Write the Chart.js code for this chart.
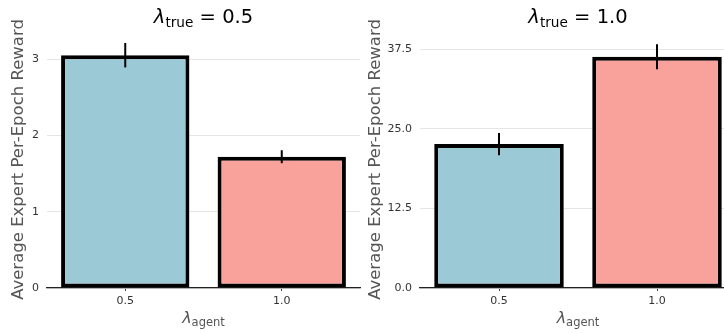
<!DOCTYPE html>
<html lang="en">
<head>
    <meta charset="UTF-8">
    <title>Expert reward by lambda</title>
    <script src="https://cdn.jsdelivr.net/npm/chart.js"></script>
    <style>
        body {
            margin: 0;
            background: #fff;
            font-family: "DejaVu Sans", sans-serif;
        }
        #wrap {
            position: relative;
            width: 724px;
            height: 333px;
            overflow: hidden;
        }
        canvas {
            position: absolute;
            top: 0;
        }
        .title, .xlabel {
            position: absolute;
            text-align: center;
            white-space: nowrap;
        }
        .title {
            top: 6px;
            font-size: 19.5px;
            line-height: 22px;
            color: #000;
        }
        .xlabel {
            top: 308px;
            font-size: 16px;
            line-height: 19px;
            color: #555;
        }
        .lam { font-style: italic; }
        .sub { position: relative; top: 4px; font-size: 70%; }
        .xlabel .sub { top: 3px; font-size: 72%; }
    </style>
</head>
<body>
<div id="wrap">
    <canvas id="leftChart" width="362" height="333" style="left:0"></canvas>
    <canvas id="rightChart" width="378" height="333" style="left:362px"></canvas>

    <div class="title" style="left:47px;width:313px"><span class="lam">λ</span><span class="sub">true</span> = 0.5</div>
    <div class="title" style="left:420px;width:316px"><span class="lam">λ</span><span class="sub">true</span> = 1.0</div>
    <div class="xlabel" style="left:47px;width:313px"><span class="lam">λ</span><span class="sub">agent</span></div>
    <div class="xlabel" style="left:420px;width:316px"><span class="lam">λ</span><span class="sub">agent</span></div>
</div>

<script>
    // categories (lambda_agent)
    const agentLabels = ["0.5", "1.0"];

    // lambda_true = 0.5
    const leftMeans = [3.05, 1.72];
    const leftErrors = [0.16, 0.085];
    const leftTicks = [0, 1, 2, 3];

    // lambda_true = 1.0
    const rightMeans = [22.6, 36.3];
    const rightErrors = [1.75, 1.96];
    const rightTicks = [0, 12.5, 25, 37.5];

    const barColors = ["#9bc9d5", "#f9a19b"];
    const yTitle = "Average Expert Per-Epoch Reward";

    // vertical error bars, no caps
    const errorBars = {
        id: "errorBars",
        afterDatasetsDraw(chart, args, opts) {
            const ctx = chart.ctx;
            const xs = chart.scales.x, ys = chart.scales.y;
            const means = chart.data.datasets[0].data;
            ctx.save();
            ctx.strokeStyle = "#000";
            ctx.lineWidth = 2;
            means.forEach((m, i) => {
                const x = xs.getPixelForValue(i);
                ctx.beginPath();
                ctx.moveTo(x, ys.getPixelForValue(m + opts.errors[i]));
                ctx.lineTo(x, ys.getPixelForValue(m - opts.errors[i]));
                ctx.stroke();
            });
            ctx.restore();
        }
    };

    function makeChart(id, means, errors, ticks, yMax, yWidth, titlePad, rightPad, decimals) {
        return new Chart(document.getElementById(id), {
            type: "bar",
            data: {
                labels: agentLabels,
                datasets: [{
                    data: means,
                    backgroundColor: barColors,
                    borderColor: "#000",
                    borderWidth: 4,
                    borderSkipped: false,
                    barPercentage: 0.82,
                    categoryPercentage: 1.0
                }]
            },
            options: {
                responsive: false,
                animation: false,
                layout: { padding: { top: 31, right: rightPad, left: 0, bottom: 0 } },
                plugins: {
                    legend: { display: false },
                    tooltip: { enabled: false },
                    errorBars: { errors: errors }
                },
                scales: {
                    x: {
                        grid: { offset: false, drawOnChartArea: false, drawTicks: true, tickLength: 3, tickColor: "#444" },
                        border: { display: true, color: "#222", width: 1.2 },
                        ticks: { color: "#333", font: { family: "DejaVu Sans", size: 11 }, padding: 4 },
                        afterFit: s => { s.height = 45; }
                    },
                    y: {
                        min: 0,
                        max: yMax,
                        grid: { color: "#e5e5e5", lineWidth: 1, drawTicks: false },
                        border: { display: false },
                        ticks: {
                            color: "#333",
                            font: { family: "DejaVu Sans", size: 11 },
                            padding: 8,
                            includeBounds: false,
                            callback: v => v.toFixed(decimals)
                        },
                        afterBuildTicks: s => { s.ticks = ticks.map(v => ({ value: v })); },
                        afterFit: s => { s.width = yWidth; },
                        title: {
                            display: true,
                            text: yTitle,
                            color: "#555",
                            font: { family: "DejaVu Sans", size: 16.5 },
                            padding: { top: titlePad, bottom: 0 }
                        }
                    }
                }
            },
            plugins: [errorBars]
        });
    }

    makeChart("leftChart", leftMeans, leftErrors, leftTicks, 3.367, 47, 9, 2, 0);
    makeChart("rightChart", rightMeans, rightErrors, rightTicks, 40.35, 58, 4, 4, 1);
</script>
</body>
</html>
